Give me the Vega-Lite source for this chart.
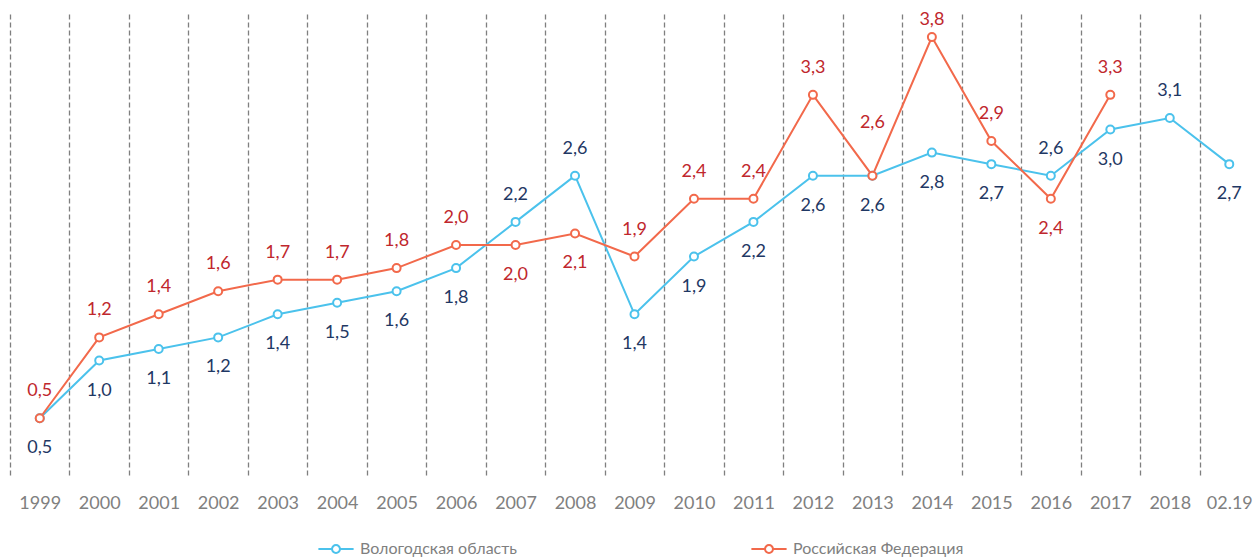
{
  "$schema": "https://vega.github.io/schema/vega-lite/v6.json",
  "width": 1249,
  "height": 462,
  "autosize": {"type": "none"},
  "padding": {"left": 10, "top": 14, "right": 0, "bottom": 83},
  "config": {
    "view": {"stroke": null},
    "font": "Lato",
    "locale": {"number": {"decimal": ",", "thousands": " ", "grouping": [3], "currency": ["", ""]}},
    "axis": {"labelFont": "Lato"},
    "legend": {"labelFont": "Lato"}
  },
  "data": {
    "values": [
      {"year": "1999", "v": 0.5, "rf": 0.5},
      {"year": "2000", "v": 1.0, "rf": 1.2},
      {"year": "2001", "v": 1.1, "rf": 1.4},
      {"year": "2002", "v": 1.2, "rf": 1.6},
      {"year": "2003", "v": 1.4, "rf": 1.7},
      {"year": "2004", "v": 1.5, "rf": 1.7},
      {"year": "2005", "v": 1.6, "rf": 1.8},
      {"year": "2006", "v": 1.8, "rf": 2.0},
      {"year": "2007", "v": 2.2, "rf": 2.0},
      {"year": "2008", "v": 2.6, "rf": 2.1},
      {"year": "2009", "v": 1.4, "rf": 1.9},
      {"year": "2010", "v": 1.9, "rf": 2.4},
      {"year": "2011", "v": 2.2, "rf": 2.4},
      {"year": "2012", "v": 2.6, "rf": 3.3},
      {"year": "2013", "v": 2.6, "rf": 2.6},
      {"year": "2014", "v": 2.8, "rf": 3.8},
      {"year": "2015", "v": 2.7, "rf": 2.9},
      {"year": "2016", "v": 2.6, "rf": 2.4},
      {"year": "2017", "v": 3.0, "rf": 3.3},
      {"year": "2018", "v": 3.1, "rf": null},
      {"year": "02.19", "v": 2.7, "rf": null}
    ]
  },
  "encoding": {
    "x": {
      "field": "year",
      "type": "ordinal",
      "sort": null,
      "scale": {"paddingInner": 0, "paddingOuter": 0},
      "axis": {
        "title": null,
        "labelAngle": 0,
        "domain": false,
        "ticks": false,
        "grid": true,
        "tickBand": "extent",
        "gridDash": [5, 3],
        "gridColor": "#7f7f7f",
        "gridWidth": 1.3,
        "labelFontSize": 18,
        "labelColor": "#808080",
        "labelPadding": 18
      }
    }
  },
  "layer": [
    {
      "transform": [
        {"fold": ["v", "rf"], "as": ["key", "value"]},
        {"filter": "isValid(datum.value)"}
      ],
      "mark": {"type": "line", "strokeWidth": 2},
      "encoding": {
        "y": {"field": "value", "type": "quantitative", "scale": {"domain": [0, 4]}, "axis": null},
        "color": {
          "field": "key",
          "type": "nominal",
          "sort": ["v", "rf"],
          "scale": {"domain": ["v", "rf"], "range": ["#4BC2EC", "#F2694B"]},
          "legend": {
            "title": null,
            "orient": "none",
            "legendX": 314,
            "legendY": 523,
            "direction": "horizontal",
            "labelExpr": "datum.label == 'v' ? 'Вологодская область' : 'Российская Федерация'",
            "labelFontSize": 16,
            "labelLimit": 400,
            "labelColor": "#7f7f7f",
            "symbolType": "M-1.6,0H-0.36M0.36,0H1.6M0.36,0A0.36,0.36 0 1,1 -0.36,0A0.36,0.36 0 1,1 0.36,0",
            "symbolSize": 484,
            "symbolStrokeWidth": 2,
            "symbolFillColor": "transparent",
            "labelOffset": 12,
            "columnPadding": 230
          }
        }
      }
    },
    {
      "transform": [
        {"fold": ["v", "rf"], "as": ["key", "value"]},
        {"filter": "isValid(datum.value)"}
      ],
      "mark": {"type": "point", "shape": "circle", "filled": false, "fill": "white", "fillOpacity": 1, "strokeWidth": 2, "size": 64, "opacity": 1},
      "encoding": {
        "y": {"field": "value", "type": "quantitative"},
        "color": {"field": "key", "type": "nominal", "legend": null}
      }
    },
    {
      "transform": [{"filter": "indexof(['2007','2008','2016','2018'], datum.year) < 0"}],
      "mark": {"type": "text", "dy": 30, "fontSize": 18, "color": "#1F3864"},
      "encoding": {
        "y": {"field": "v", "type": "quantitative"},
        "text": {"field": "v", "type": "quantitative", "format": ".1f"}
      }
    },
    {
      "transform": [{"filter": "indexof(['2007','2008','2016','2018'], datum.year) >= 0"}],
      "mark": {"type": "text", "dy": -27, "fontSize": 18, "color": "#1F3864"},
      "encoding": {
        "y": {"field": "v", "type": "quantitative"},
        "text": {"field": "v", "type": "quantitative", "format": ".1f"}
      }
    },
    {
      "transform": [{"filter": "isValid(datum.rf) && indexof(['2007','2008','2016','2013','2014'], datum.year) < 0"}],
      "mark": {"type": "text", "dy": -27, "fontSize": 18, "color": "#C0272D"},
      "encoding": {
        "y": {"field": "rf", "type": "quantitative"},
        "text": {"field": "rf", "type": "quantitative", "format": ".1f"}
      }
    },
    {
      "transform": [{"filter": "datum.year == '2013'"}],
      "mark": {"type": "text", "dy": -53, "fontSize": 18, "color": "#C0272D"},
      "encoding": {
        "y": {"field": "rf", "type": "quantitative"},
        "text": {"field": "rf", "type": "quantitative", "format": ".1f"}
      }
    },
    {
      "transform": [{"filter": "datum.year == '2014'"}],
      "mark": {"type": "text", "dy": -17, "fontSize": 18, "color": "#C0272D"},
      "encoding": {
        "y": {"field": "rf", "type": "quantitative"},
        "text": {"field": "rf", "type": "quantitative", "format": ".1f"}
      }
    },
    {
      "transform": [{"filter": "indexof(['2007','2008','2016'], datum.year) >= 0"}],
      "mark": {"type": "text", "dy": 30, "fontSize": 18, "color": "#C0272D"},
      "encoding": {
        "y": {"field": "rf", "type": "quantitative"},
        "text": {"field": "rf", "type": "quantitative", "format": ".1f"}
      }
    }
  ]
}
